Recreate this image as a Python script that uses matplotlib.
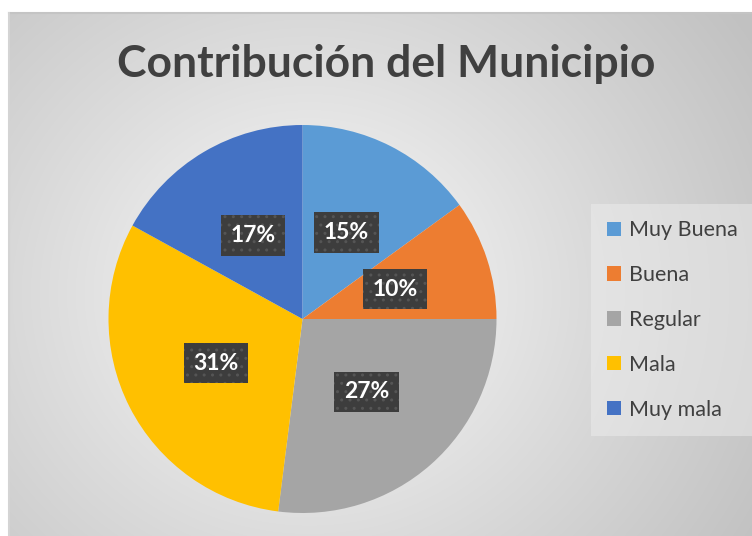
import numpy as np
import matplotlib.pyplot as plt

categories = ['Muy Buena', 'Buena', 'Regular', 'Mala', 'Muy mala']
values = [15, 10, 27, 31, 17]
colors = ['#5B9BD5', '#ED7D31', '#A5A5A5', '#FFC000', '#4472C4']
title = 'Contribución del Municipio'

plt.rcParams['font.family'] = ['Lato', 'DejaVu Sans']

W, H = 752, 536
fig = plt.figure(figsize=(W / 100, H / 100), dpi=100)
fig.patch.set_facecolor('white')

# chart area with radial gradient (Excel style)
x0, y0 = 9, 0
bg = fig.add_axes([x0 / W, y0 / H, (W - x0) / W, (H - 13 - y0) / H])
yy, xx = np.mgrid[0:523, 0:743]
cx, cy = 300, 280
d = np.sqrt(((xx - cx) / 520.0) ** 2 + ((yy - cy) / 480.0) ** 2)
d = np.clip(d, 0, 1)
shade = 1.0 - 0.24 * d ** 0.85
img = np.dstack([shade, shade, shade])
bg.imshow(img, aspect='auto', interpolation='bilinear')
bg.set_axis_off()
# border lines
fig.add_artist(plt.Line2D([x0 / W, 1], [(H - 13) / H, (H - 13) / H],
                          color='#c4c4c4', lw=1.5))
fig.add_artist(plt.Line2D([x0 / W, x0 / W], [0, (H - 13) / H],
                          color='#d4d4d4', lw=1.5))

# pie
r = 194
pcx, pcy = 302.5, 319
ax = fig.add_axes([(pcx - r) / W, (H - pcy - r) / H, 2 * r / W, 2 * r / H])
wedges, texts, autotexts = ax.pie(values, colors=colors, startangle=90,
                                  counterclock=False, radius=1.0,
                                  autopct='%1.0f%%', pctdistance=0.5,
                                  wedgeprops=dict(linewidth=0),
                                  textprops=dict(color='white', fontsize=16.5,
                                                 fontweight='bold'))
ax.set_xlim(-1, 1)
ax.set_ylim(-1, 1)
ax.set_aspect('equal')
for t in autotexts:
    t.set_bbox(dict(boxstyle='square,pad=0.42', facecolor='#3d3d3d',
                    edgecolor='#555555', linewidth=0, hatch='..'))

fig.text(386 / W, 1 - 64 / H, title, ha='center', va='center',
         fontsize=32, fontweight='bold', color='#404040')

leg = fig.legend(wedges, categories, loc='center left',
                 bbox_to_anchor=(593 / W, 1 - 320 / H), frameon=True,
                 fontsize=15.5, labelcolor='#404040', handlelength=0.65,
                 handleheight=0.65, handletextpad=0.35, labelspacing=1.15,
                 borderpad=0.45, borderaxespad=0.2)
leg.get_frame().set_facecolor('#f0f0f0')
leg.get_frame().set_edgecolor('none')
leg.get_frame().set_alpha(0.45)
leg.get_frame().set_boxstyle('square')

fig.savefig('out.png', dpi=100)
